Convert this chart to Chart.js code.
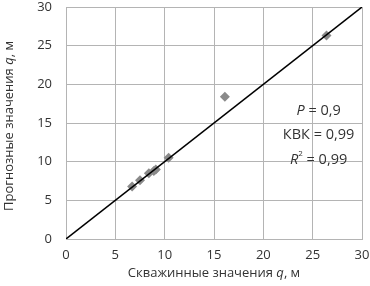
<!DOCTYPE html>
<html>
<head>
<meta charset="utf-8">
<script src="https://cdn.jsdelivr.net/npm/chart.js@4"></script>
<style>
  html, body { margin: 0; padding: 0; background: #fff; }
  #wrap { width: 370px; height: 286px; }
</style>
</head>
<body>
<div id="wrap"><canvas id="chart"></canvas></div>
<script>
// Observed (well) values vs predicted values of q, m
const wellValues = [6.7, 7.5, 8.4, 8.9, 9.1, 10.4, 16.1, 26.4];
const predictedValues = [6.8, 7.6, 8.5, 8.8, 9.0, 10.5, 18.4, 26.3];
// 1:1 reference line
const lineX = [0, 30];
const lineY = [0, 30];
const tickValues = [0, 5, 10, 15, 20, 25, 30];
const statLines = [
    [['P', true], [' = 0,9', false]],
    [['КВК = 0,99', false]],
    [['R', true], ['2', false, 'sup'], [' = 0,99', false]]
];

const FONT = '"Open Sans", "DejaVu Sans", sans-serif';

// Draws a run of text pieces (some italic) starting at x
const drawPieces = (ctx, pieces, x, y, size) => {
    pieces.forEach(([txt, italic, kind]) => {
        const s = kind === 'sup' ? size * 0.55 : size;
        ctx.font = (italic ? 'italic ' : '') + s + 'px ' + FONT;
        const dy = kind === 'sup' ? -size * 0.4 : 0;
        ctx.fillText(txt, x, y + dy);
        x += ctx.measureText(txt).width;
    });
};
const measurePieces = (ctx, pieces, size) => {
    let w = 0;
    pieces.forEach(([txt, italic, kind]) => {
        const s = kind === 'sup' ? size * 0.55 : size;
        ctx.font = (italic ? 'italic ' : '') + s + 'px ' + FONT;
        w += ctx.measureText(txt).width;
    });
    return w;
};

// Plugin for axis titles (with italic q) and the statistics block
const labelsPlugin = {
    id: 'labels',
    afterDraw(chart) {
        const ctx = chart.ctx;
        const area = chart.chartArea;
        ctx.save();
        ctx.fillStyle = '#333';
        ctx.textBaseline = 'middle';

        // x axis title
        const xt = [['Скважинные значения ', false], ['q', true], [', м', false]];
        const xw = measurePieces(ctx, xt, 13);
        drawPieces(ctx, xt, (area.left + area.right) / 2 - xw / 2, 273, 13);

        // y axis title (rotated)
        const yt = [['Прогнозные значения ', false], ['q', true], [', м', false]];
        const yw = measurePieces(ctx, yt, 13);
        ctx.translate(9, (area.top + area.bottom) / 2 + 3);
        ctx.rotate(-Math.PI / 2);
        drawPieces(ctx, yt, -yw / 2, 0, 13);
        ctx.restore();

        // statistics
        ctx.save();
        ctx.fillStyle = '#333';
        ctx.textBaseline = 'middle';
        const cx = chart.scales.x.getPixelForValue(25.6);
        const ys = [111, 135, 160];
        statLines.forEach((pieces, i) => {
            const w = measurePieces(ctx, pieces, 14.5);
            drawPieces(ctx, pieces, cx - w / 2, ys[i], 14.5);
        });
        ctx.restore();
    }
};

const ctx = document.getElementById('chart').getContext('2d');
new Chart(ctx, {
    type: 'scatter',
    data: {
        datasets: [
            {
                label: 'Точки',
                data: wellValues.map((v, i) => ({ x: v, y: predictedValues[i] })),
                pointStyle: 'rectRot',
                pointRadius: 5,
                backgroundColor: '#8a8a8a',
                borderColor: '#8a8a8a',
                borderWidth: 0,
                order: 2
            },
            {
                label: '1:1',
                type: 'line',
                data: lineX.map((v, i) => ({ x: v, y: lineY[i] })),
                borderColor: '#000',
                borderWidth: 1.5,
                pointRadius: 0,
                fill: false,
                order: 1
            }
        ]
    },
    options: {
        responsive: true,
        maintainAspectRatio: false,
        animation: false,
        layout: { padding: { top: 7, right: 8, left: 0, bottom: 0 } },
        plugins: {
            legend: { display: false },
            tooltip: { enabled: false }
        },
        scales: {
            x: {
                type: 'linear',
                min: 0,
                max: 30,
                afterBuildTicks: (scale) => { scale.ticks = tickValues.map(v => ({ value: v })); },
                afterFit: (scale) => {
                    scale.height = 47;
                    scale.paddingLeft = 0;
                    scale.paddingRight = 0;
                },
                grid: { color: '#b4b4b4', lineWidth: 1, drawTicks: false },
                border: { color: '#b4b4b4' },
                ticks: { color: '#333', font: { family: FONT, size: 13 }, padding: 8 }
            },
            y: {
                type: 'linear',
                min: 0,
                max: 30,
                afterBuildTicks: (scale) => { scale.ticks = tickValues.map(v => ({ value: v })); },
                afterFit: (scale) => {
                    scale.width = 66;
                    scale.paddingTop = 0;
                    scale.paddingBottom = 0;
                },
                grid: { color: '#b4b4b4', lineWidth: 1, drawTicks: false },
                border: { color: '#b4b4b4' },
                ticks: { color: '#333', font: { family: FONT, size: 13 }, padding: 14 }
            }
        }
    },
    plugins: [labelsPlugin]
});
</script>
</body>
</html>
